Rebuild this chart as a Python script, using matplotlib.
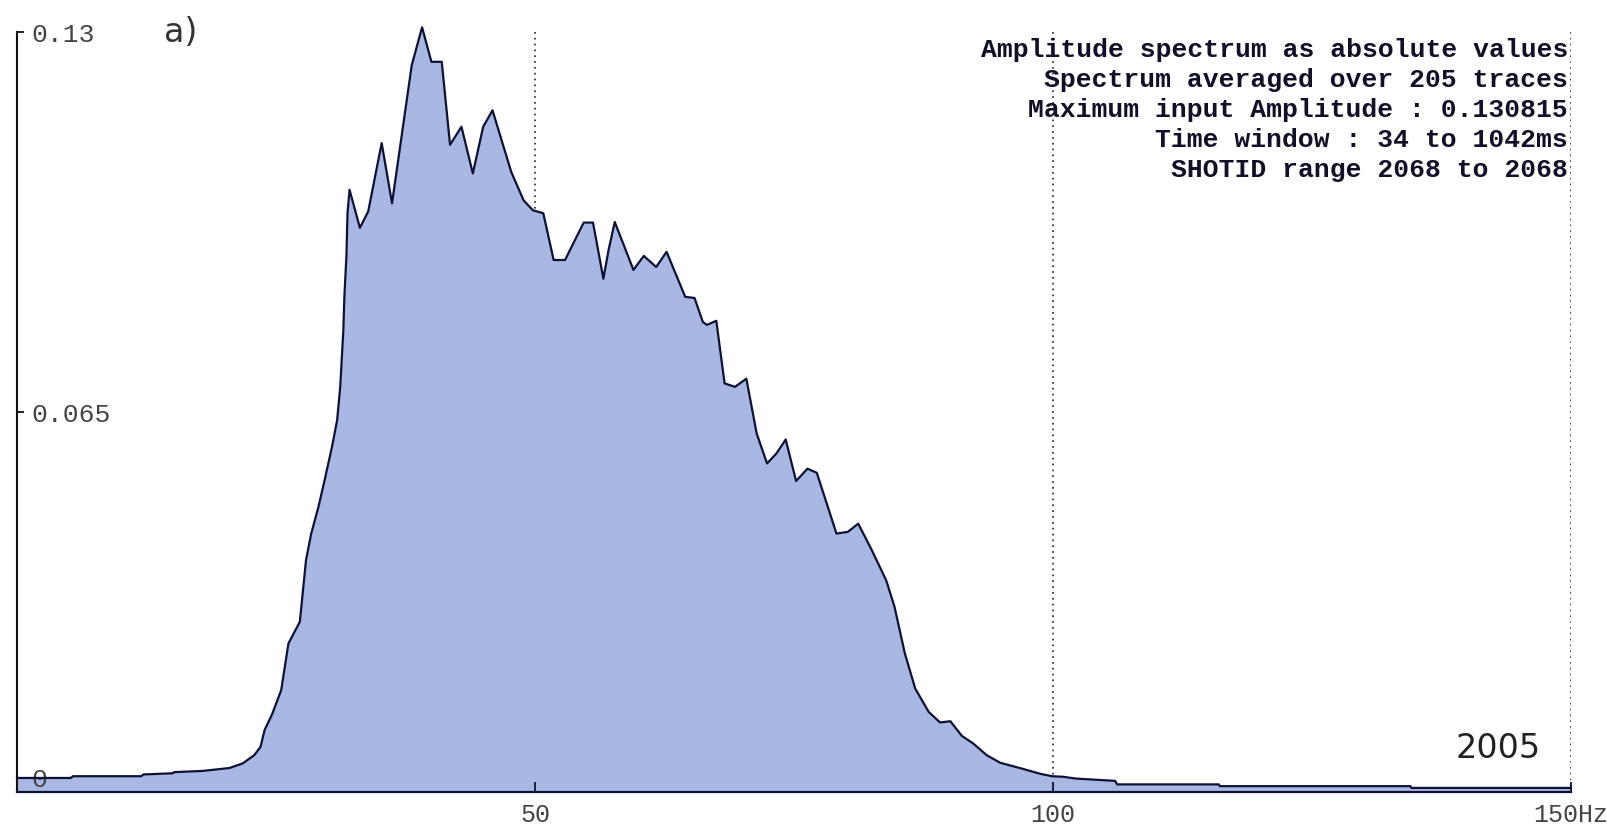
import numpy as np
import matplotlib
matplotlib.use("Agg")
import matplotlib.pyplot as plt

# averaged amplitude spectrum (Hz, amplitude)
freq = [0, 5.2, 5.4, 12.0, 12.2, 15.0, 15.2, 17.9, 20.5, 21.8, 22.9, 23.5, 23.9,
        24.6, 25.5, 26.2, 26.7, 27.3, 27.9, 28.4, 29.1, 29.7, 30.4, 30.9, 31.2,
        31.5, 31.6, 31.8, 31.9, 32.1, 33.1, 33.9, 35.2, 36.2, 38.1, 39.1, 40.0,
        41.0, 41.8, 42.9, 44.0, 45.0, 45.9, 47.7, 48.9, 49.8, 50.8, 51.8, 52.9,
        54.7, 55.6, 56.6, 57.1, 57.7, 59.5, 60.5, 61.7, 62.7, 64.5, 65.4, 66.2,
        66.6, 67.5, 68.3, 69.3, 70.4, 71.4, 72.4, 73.3, 74.2, 75.2, 76.3, 77.2,
        79.1, 80.2, 81.2, 82.5, 83.9, 84.7, 85.7, 86.7, 88.0, 89.1, 90.1, 91.2,
        92.3, 93.6, 94.9, 96.8, 98.8, 99.9, 101.0, 102.2, 106.0, 106.2, 116.0,
        116.1, 134.5, 134.6, 150.0]
amp = [0.0024, 0.0024, 0.0027, 0.0027, 0.0030, 0.0032, 0.0034, 0.0036, 0.0041,
       0.0049, 0.0063, 0.0077, 0.0106, 0.0132, 0.0174, 0.0254, 0.0271, 0.0291,
       0.0397, 0.0442, 0.0488, 0.0534, 0.0590, 0.0636, 0.0693, 0.0790, 0.0847,
       0.0918, 0.0990, 0.1030, 0.0965, 0.0993, 0.1110, 0.1007, 0.1243, 0.1308,
       0.1249, 0.1249, 0.1107, 0.1138, 0.1058, 0.1138, 0.1166, 0.1061, 0.1012,
       0.0995, 0.0990, 0.0910, 0.0910, 0.0974, 0.0974, 0.0878, 0.0927, 0.0975,
       0.0893, 0.0917, 0.0898, 0.0924, 0.0847, 0.0845, 0.0804, 0.0799, 0.0806,
       0.0699, 0.0693, 0.0707, 0.0613, 0.0562, 0.0579, 0.0603, 0.0532, 0.0553,
       0.0546, 0.0442, 0.0445, 0.0459, 0.0414, 0.0362, 0.0317, 0.0237, 0.0177,
       0.0137, 0.0119, 0.0121, 0.0096, 0.0083, 0.0063, 0.0050, 0.0041, 0.0031,
       0.0027, 0.0026, 0.0023, 0.0019, 0.0013, 0.0013, 0.0010, 0.0010, 0.0007,
       0.0007]

xticks = [50, 100, 150]
xlabels = ["50", "100", "150Hz"]
yticks = [0, 0.065, 0.13]
ylabels = ["0", "0.065", "0.13"]

info = ["Amplitude spectrum as absolute values",
        "Spectrum averaged over 205 traces",
        "Maximum input Amplitude : 0.130815",
        "Time window : 34 to 1042ms",
        "SHOTID range 2068 to 2068"]

W, H = 1607, 835
mono = "Liberation Mono"
navy = "#0d1235"

fig = plt.figure(figsize=(W / 100, H / 100), dpi=100)
ax = fig.add_axes([17 / W, (H - 792) / H, (1571 - 17) / W, (792 - 32) / H])

# dotted guides at the frequency ticks, kept behind the filled spectrum
for xt in xticks:
    ax.axvline(xt, linestyle=(0, (1, 2.5)), color="#222222", linewidth=1.2, zorder=1)

ax.fill_between(freq, amp, 0, color="#a9b7e3", linewidth=0, zorder=2)
ax.plot(freq, amp, color=navy, linewidth=1.6, zorder=3, clip_on=False)
ax.set_axisbelow(False)  # tick labels ("0") drawn over the fill

ax.set_xlim(0, 150)
ax.set_ylim(0, 0.13)

for s in ["top", "right"]:
    ax.spines[s].set_visible(False)
ax.spines["left"].set_color("#111111")
ax.spines["left"].set_linewidth(1.5)
ax.spines["bottom"].set_color(navy)
ax.spines["bottom"].set_linewidth(1.6)
ax.spines["bottom"].set_zorder(4)

ax.set_xticks(xticks)
ax.set_xticklabels(xlabels, fontfamily=mono, fontsize=18, color="#444444")
ax.tick_params(axis="x", direction="in", length=7, width=1.3, color=navy, pad=8)

ax.set_yticks(yticks)
ax.set_yticklabels(ylabels, fontfamily=mono, fontsize=19, color="#444444")
ax.tick_params(axis="y", direction="in", length=5, width=1.3, color="#111111", pad=-10)
plt.setp(ax.get_yticklabels(), ha="left")
ax.get_yticklabels()[0].set_va("bottom")

for i, line in enumerate(info):
    fig.text(1568 / W, 1 - (50 + 30 * i) / H, line, ha="right", va="center",
             fontfamily=mono, fontweight="bold", fontsize=19, color="#101028")

fig.text(164 / W, 1 - 32 / H, "a)", ha="left", va="center", fontsize=24, color="#333333")
fig.text(1541 / W, 1 - 748 / H, "2005", ha="right", va="center", fontsize=24, color="#222222")

fig.savefig("out.png", dpi=100)
